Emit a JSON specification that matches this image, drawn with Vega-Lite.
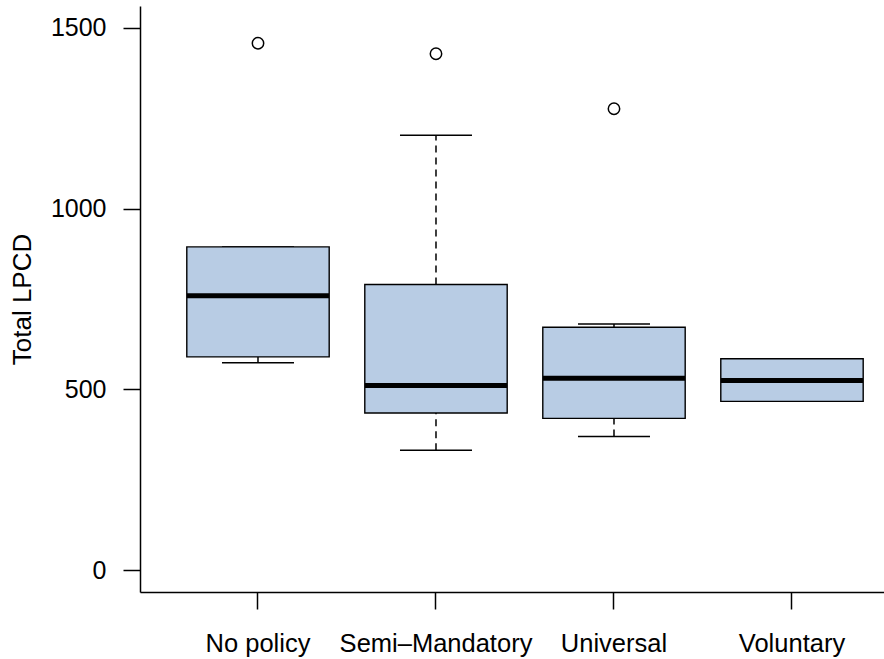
{
  "$schema": "https://vega.github.io/schema/vega-lite/v6.json",
  "width": 744,
  "height": 586,
  "autosize": {"type": "none"},
  "padding": {"left": 140, "top": 6, "right": 0, "bottom": 67},
  "background": "white",
  "config": {
    "view": {"stroke": null},
    "axis": {"grid": false, "domainColor": "black", "tickColor": "black", "labelColor": "black", "titleColor": "black", "domainWidth": 1.5, "tickWidth": 1.5}
  },
  "datasets": {
    "boxes": [
      {"policy": "No policy", "lower": 574, "q1": 590, "median": 759, "q3": 894, "upper": 894},
      {"policy": "Semi\u2013Mandatory", "lower": 332, "q1": 435, "median": 511, "q3": 790, "upper": 1203},
      {"policy": "Universal", "lower": 370, "q1": 420, "median": 531, "q3": 672, "upper": 681},
      {"policy": "Voluntary", "lower": 467, "q1": 467, "median": 525, "q3": 585, "upper": 585}
    ],
    "outliers": [
      {"policy": "No policy", "value": 1457},
      {"policy": "Semi\u2013Mandatory", "value": 1428},
      {"policy": "Universal", "value": 1276}
    ]
  },
  "encoding": {
    "x": {
      "field": "policy",
      "type": "nominal",
      "sort": ["No policy", "Semi\u2013Mandatory", "Universal", "Voluntary"],
      "scale": {"type": "band", "domain": ["No policy", "Semi\u2013Mandatory", "Universal", "Voluntary"], "paddingInner": 0, "paddingOuter": 0.0899, "align": 0.906},
      "axis": {"title": null, "labelAngle": 0, "tickSize": 17, "labelPadding": 22, "labelFontSize": 25.5, "labelFont": "Liberation Sans", "labelFontWeight": "normal", "labelOverlap": false, "labelLimit": 400}
    }
  },
  "layer": [
    {
      "data": {"name": "boxes"},
      "mark": {"type": "rule", "color": "black", "strokeWidth": 1.5, "strokeDash": [7, 5]},
      "encoding": {
        "y": {"field": "lower", "type": "quantitative", "scale": {"domain": [-60, 1560], "nice": false, "zero": false},
          "axis": {"title": "Total LPCD", "values": [0, 500, 1000, 1500], "format": "d", "tickSize": 17, "labelPadding": 17, "labelFontSize": 25, "labelFont": "Liberation Sans", "titleFont": "Liberation Sans", "titleFontSize": 26, "titleFontWeight": "normal", "titlePadding": 15}},
        "y2": {"field": "q1"}
      }
    },
    {
      "data": {"name": "boxes"},
      "mark": {"type": "rule", "color": "black", "strokeWidth": 1.5, "strokeDash": [7, 5]},
      "encoding": {
        "y": {"field": "q3", "type": "quantitative"},
        "y2": {"field": "upper"}
      }
    },
    {
      "data": {"name": "boxes"},
      "mark": {"type": "tick", "color": "black", "size": 72, "thickness": 1.5, "opacity": 1},
      "encoding": {"y": {"field": "lower", "type": "quantitative"}}
    },
    {
      "data": {"name": "boxes"},
      "mark": {"type": "tick", "color": "black", "size": 72, "thickness": 1.5, "opacity": 1},
      "encoding": {"y": {"field": "upper", "type": "quantitative"}}
    },
    {
      "data": {"name": "boxes"},
      "mark": {"type": "bar", "width": {"band": 0.8}, "fill": "#B8CCE4", "stroke": "black", "strokeWidth": 1.4},
      "encoding": {
        "y": {"field": "q1", "type": "quantitative"},
        "y2": {"field": "q3"}
      }
    },
    {
      "data": {"name": "boxes"},
      "mark": {"type": "tick", "color": "black", "size": 142, "thickness": 5, "opacity": 1},
      "encoding": {"y": {"field": "median", "type": "quantitative"}}
    },
    {
      "data": {"name": "outliers"},
      "mark": {"type": "point", "shape": "circle", "filled": false, "color": "black", "size": 130, "strokeWidth": 1.5, "opacity": 1},
      "encoding": {"y": {"field": "value", "type": "quantitative"}}
    }
  ]
}
